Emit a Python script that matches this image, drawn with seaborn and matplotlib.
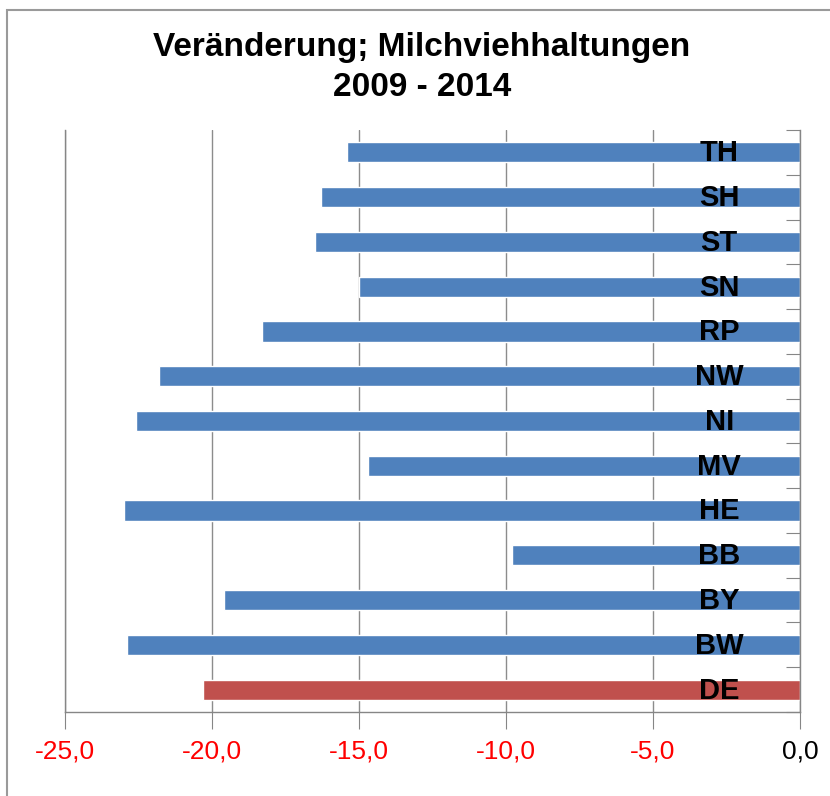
import numpy as np
import pandas as pd
import seaborn as sns
import matplotlib.pyplot as plt
from matplotlib.patches import Rectangle

# Daten: Veränderung der Milchviehhaltungen 2009 - 2014 (%)
regions = ["TH", "SH", "ST", "SN", "RP", "NW", "NI", "MV", "HE", "BB", "BY", "BW", "DE"]
changes = [-15.4, -16.3, -16.5, -15.0, -18.3, -21.8, -22.6, -14.7, -23.0, -9.8, -19.6, -22.9, -20.3]
bar_colors = ["#4F81BD"] * 12 + ["#C0504D"]
x_ticks = [-25, -20, -15, -10, -5, 0]

df = pd.DataFrame({"region": regions, "change": changes})

sns.set_style("white")
plt.rcParams['font.family'] = ['Liberation Sans', 'DejaVu Sans']

fig = plt.figure(figsize=(8.3, 7.96), dpi=100)
ax = fig.add_axes([0.0783, 0.1055, 0.8856, 0.7312])

sns.barplot(data=df, y="region", x="change", hue="region", palette=bar_colors,
            orient="h", width=0.45, legend=False, ax=ax, saturation=1)

ax.set_xlim(-25, 0)
ax.set_ylim(len(regions) - 0.5, -0.5)
ax.set_xticks(x_ticks)
ax.set_xticklabels([f"{v:.1f}".replace(".", ",") for v in x_ticks], fontsize=19)
for lbl, v in zip(ax.get_xticklabels(), x_ticks):
    lbl.set_color("black" if v == 0 else "red")
ax.tick_params(axis="x", direction="out", length=12, color="#868686", pad=8, bottom=True)

# Kategorieachse bei 0 (rechts)
ax.set_yticks(np.arange(len(regions) + 1) - 0.5)
ax.set_yticklabels([])
ax.tick_params(axis="y", left=False, right=True, direction="in", length=10, color="#868686")
ax.set_xlabel("")
ax.set_ylabel("")

ax.grid(axis="x", color="#8c8c8c", linewidth=1)
ax.set_axisbelow(True)
for side in ["left", "right", "bottom"]:
    ax.spines[side].set_visible(True)
    ax.spines[side].set_color("#868686")
    ax.spines[side].set_linewidth(1)
ax.spines["top"].set_visible(False)

for i, r in enumerate(regions):
    ax.text(-2.75, i + 0.02, r, ha="center", va="center", fontsize=21, fontweight="bold", color="black")

fig.text(0.508, 0.915, "Veränderung; Milchviehhaltungen\n2009 - 2014", ha="center", va="center",
         fontsize=24, fontweight="bold", linespacing=1.4, color="black")

fig.patches.append(Rectangle((7 / 830, -0.1), 1.2, 1.1 - 10 / 796, transform=fig.transFigure,
                             fill=False, edgecolor="#9a9a9a", linewidth=1.5))

plt.savefig("out.png", dpi=100)
